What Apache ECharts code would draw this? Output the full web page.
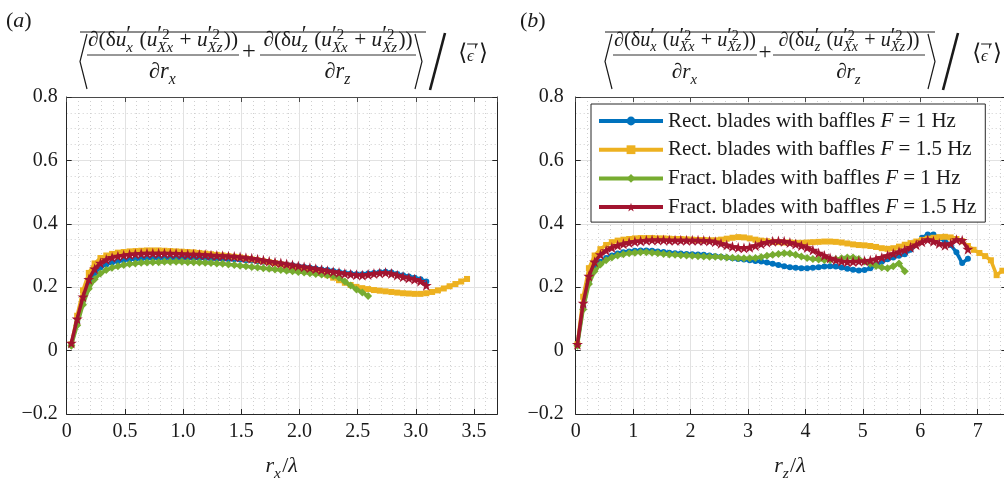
<!DOCTYPE html>
<html><head><meta charset="utf-8">
<script src="https://cdn.jsdelivr.net/npm/echarts@6/dist/echarts.min.js"></script>
<style>html,body{margin:0;padding:0;background:#fff}#c{width:1004px;height:483px}</style>
</head><body><div id="c"></div>
<script>
// ---------------- DATA ----------------
const seriesNames = ['Rect. blades with baffles F = 1 Hz','Rect. blades with baffles F = 1.5 Hz','Fract. blades with baffles F = 1 Hz','Fract. blades with baffles F = 1.5 Hz'];

// panel (a): r_x / lambda sample positions
const xA = [0.04,0.09,0.14,0.19,0.24,0.29,0.34,0.39,0.44,0.49,
0.54,0.59,0.64,0.69,0.74,0.79,0.84,0.89,0.94,0.99,
1.04,1.09,1.14,1.19,1.24,1.29,1.34,1.39,1.44,1.49,
1.54,1.59,1.64,1.69,1.74,1.79,1.84,1.89,1.94,1.99,
2.04,2.09,2.14,2.19,2.24,2.29,2.34,2.39,2.44,2.49,
2.54,2.59,2.64,2.69,2.74,2.79,2.84,2.89,2.94,2.99,
3.04,3.09,3.14,3.19,3.24,3.29,3.34,3.39,3.44];

const blueA = [0.02,0.09,0.16,0.212,0.245,0.262,0.272,0.278,0.282,0.285,
0.287,0.289,0.290,0.291,0.292,0.292,0.292,0.292,0.292,0.292,
0.292,0.292,0.291,0.291,0.290,0.290,0.289,0.288,0.288,0.287,
0.285,0.284,0.282,0.280,0.278,0.276,0.274,0.271,0.269,0.266,
0.264,0.261,0.259,0.256,0.254,0.251,0.248,0.245,0.243,0.241,
0.241,0.243,0.245,0.247,0.249,0.246,0.242,0.238,0.234,0.230,
0.225,0.218];

const yellowA = [0.02,0.11,0.19,0.245,0.275,0.292,0.300,0.305,0.309,0.311,
0.313,0.314,0.315,0.316,0.316,0.316,0.315,0.314,0.313,0.312,
0.311,0.310,0.308,0.306,0.304,0.302,0.300,0.298,0.296,0.294,
0.291,0.288,0.285,0.282,0.279,0.276,0.272,0.268,0.264,0.260,
0.256,0.252,0.248,0.244,0.238,0.230,0.222,0.214,0.207,0.201,
0.197,0.194,0.191,0.189,0.187,0.185,0.183,0.181,0.180,0.179,
0.179,0.181,0.185,0.190,0.196,0.203,0.210,0.218,0.226];

const greenA = [0.015,0.08,0.145,0.195,0.225,0.243,0.254,0.261,0.266,0.270,
0.273,0.275,0.277,0.278,0.279,0.279,0.280,0.280,0.280,0.280,
0.279,0.279,0.278,0.277,0.276,0.275,0.274,0.272,0.270,0.268,
0.266,0.264,0.262,0.260,0.258,0.256,0.254,0.252,0.250,0.248,
0.246,0.244,0.242,0.240,0.238,0.235,0.230,0.218,0.205,0.193,
0.183,0.172];

const redA = [0.024,0.10,0.17,0.225,0.258,0.276,0.287,0.294,0.298,0.301,
0.303,0.305,0.306,0.307,0.307,0.307,0.307,0.306,0.306,0.305,
0.304,0.304,0.303,0.302,0.301,0.300,0.299,0.298,0.297,0.295,
0.293,0.291,0.288,0.285,0.282,0.279,0.276,0.273,0.270,0.267,
0.264,0.261,0.258,0.255,0.252,0.249,0.246,0.243,0.241,0.239,
0.238,0.240,0.243,0.245,0.246,0.243,0.238,0.233,0.229,0.225,
0.219,0.206];

// panel (b): r_z / lambda sample positions
const xB = [0.03,0.13,0.23,0.33,0.43,0.53,0.63,0.73,0.83,0.93,
1.03,1.13,1.23,1.33,1.43,1.53,1.63,1.73,1.83,1.93,
2.03,2.13,2.23,2.33,2.43,2.53,2.63,2.73,2.83,2.93,
3.03,3.13,3.23,3.33,3.43,3.53,3.63,3.73,3.83,3.93,
4.03,4.13,4.23,4.33,4.43,4.53,4.63,4.73,4.83,4.93,
5.03,5.13,5.23,5.33,5.43,5.53,5.63,5.73,5.83,5.93,
6.03,6.13,6.23,6.33,6.43,6.53,6.63,6.73,6.83,6.93,
7.03,7.13,7.23,7.33,7.43];

const blueB = [0.02,0.14,0.22,0.26,0.28,0.292,0.300,0.306,0.310,0.313,
0.315,0.316,0.316,0.315,0.313,0.311,0.309,0.307,0.306,0.305,
0.304,0.303,0.302,0.300,0.298,0.296,0.294,0.291,0.289,0.287,
0.285,0.283,0.281,0.278,0.274,0.270,0.266,0.263,0.261,0.260,
0.260,0.261,0.263,0.265,0.266,0.265,0.262,0.258,0.255,0.253,
0.254,0.260,0.270,0.280,0.288,0.294,0.299,0.304,0.318,0.338,
0.356,0.366,0.366,0.356,0.345,0.333,0.310,0.276,0.290];

const yellowB = [0.02,0.17,0.26,0.30,0.32,0.333,0.342,0.347,0.350,0.352,
0.354,0.355,0.355,0.355,0.354,0.354,0.353,0.352,0.352,0.351,
0.350,0.349,0.349,0.348,0.348,0.350,0.353,0.356,0.358,0.357,
0.354,0.350,0.347,0.345,0.343,0.342,0.341,0.341,0.340,0.340,
0.341,0.342,0.343,0.344,0.344,0.343,0.341,0.338,0.335,0.333,
0.332,0.330,0.327,0.323,0.321,0.323,0.328,0.334,0.339,0.344,
0.349,0.353,0.356,0.358,0.359,0.357,0.352,0.345,0.330,0.318,
0.308,0.298,0.285,0.238,0.252];

const greenB = [0.015,0.13,0.21,0.25,0.272,0.285,0.294,0.300,0.304,0.307,
0.309,0.310,0.310,0.309,0.307,0.305,0.303,0.302,0.301,0.300,
0.299,0.298,0.297,0.296,0.296,0.295,0.294,0.293,0.292,0.291,
0.291,0.292,0.295,0.299,0.302,0.305,0.307,0.306,0.302,0.297,
0.292,0.289,0.287,0.286,0.286,0.288,0.291,0.294,0.294,0.289,
0.281,0.274,0.267,0.262,0.260,0.266,0.275,0.250];

const redB = [0.02,0.15,0.235,0.28,0.303,0.316,0.325,0.332,0.337,0.341,
0.344,0.346,0.348,0.349,0.349,0.349,0.348,0.348,0.348,0.348,
0.348,0.348,0.347,0.346,0.343,0.338,0.333,0.328,0.325,0.324,
0.326,0.331,0.337,0.342,0.345,0.346,0.345,0.341,0.336,0.331,
0.325,0.317,0.308,0.300,0.292,0.286,0.282,0.280,0.281,0.282,
0.283,0.285,0.289,0.294,0.300,0.306,0.312,0.318,0.326,0.334,
0.343,0.350,0.345,0.338,0.332,0.338,0.350,0.348,0.320];

// ---------------- STYLE / LAYOUT ----------------
const SERIF = '"Liberation Serif","Times New Roman","DejaVu Serif",serif';
const LAB_FONT = 'Liberation Serif';
const AX = '#262626';
const TXT = '#1a1a1a';
const STAR = 'path://M100,0L122.45,69.1L195.1,69.1L136.3,111.8L158.8,180.9L100,138.2L41.2,180.9L63.7,111.8L4.9,69.1L77.55,69.1Z';
const looks = [
  {color:'#0072BD', symbol:'circle', size:6},
  {color:'#EDB120', symbol:'rect', size:6},
  {color:'#77AC30', symbol:'diamond', size:8},
  {color:'#A2142F', symbol:STAR, size:11}
];

function zip(xs, ys){ return ys.map((y,i)=>[xs[i], y]); }
function mk(k, data, xi, yi){
  const st = looks[k];
  return {name:seriesNames[k], type:'line', xAxisIndex:xi, yAxisIndex:yi, data,
    symbol:st.symbol, symbolSize:st.size, showSymbol:true, showAllSymbol:true,
    lineStyle:{color:st.color, width:3.5}, itemStyle:{color:st.color, borderWidth:0},
    emphasis:{disabled:true}, animation:false, z:2+k*0.1};
}

function rt(s){ return s==='' ? '' : '{t|'+s+'}'; }
function fmtY(v){ if (Math.abs(v)<1e-9) return rt('0'); const s=Math.abs(v).toFixed(1); return rt(v<0 ? '\u2212'+s : s); }
function fmtXa(v){ if (Math.abs(v/0.5-Math.round(v/0.5))>1e-6) return ''; return rt(Math.abs(v)<1e-9 ? '0' : v.toFixed(1)); }
function fmtXb(v){ if (Math.abs(v-Math.round(v))>1e-6) return ''; return rt(String(Math.round(v))); }

const labStyle = {fontFamily:LAB_FONT, fontSize:20, color:TXT, fontWeight:'normal', fontStyle:'normal',
  rich:{t:{fontFamily:LAB_FONT, fontSize:20, color:TXT, fontWeight:'normal', fontStyle:'normal'}}};

function xMain(gi,max,interval,fmt){
  return {type:'value', gridIndex:gi, position:'bottom', min:0, max, interval,
    axisLine:{onZero:false, lineStyle:{color:AX, width:1}},
    axisTick:{inside:true, length:5, lineStyle:{color:AX}},
    axisLabel:Object.assign({formatter:fmt, margin:8}, labStyle),
    splitLine:{show:true, lineStyle:{color:'#e2e2e2', width:1}}};
}
function xMinor(gi,max,interval){
  return {type:'value', gridIndex:gi, position:'bottom', min:0, max, interval,
    axisLine:{show:false, onZero:false}, axisTick:{show:false}, axisLabel:{show:false},
    splitLine:{show:true, lineStyle:{color:'#cfcfcf', width:1, type:[1,3]}}, z:-1};
}
function xTop(gi,max,interval){
  return {type:'value', gridIndex:gi, position:'top', min:0, max, interval,
    axisLine:{show:true, onZero:false, lineStyle:{color:'#4a4a4a'}},
    axisTick:{inside:true, length:5, lineStyle:{color:'#4a4a4a'}},
    axisLabel:{show:false}, splitLine:{show:false}};
}
function yMain(gi, margin){
  return {type:'value', gridIndex:gi, position:'left', min:-0.2, max:0.8, interval:0.2,
    axisLine:{show:true, onZero:false, lineStyle:{color:AX}},
    axisTick:{inside:true, length:5, lineStyle:{color:AX}},
    axisLabel:Object.assign({formatter:fmtY, margin}, labStyle),
    splitLine:{show:true, lineStyle:{color:'#e2e2e2'}},
    minorTick:{show:false, splitNumber:4},
    minorSplitLine:{show:true, lineStyle:{color:'#cfcfcf', type:[1,3]}}};
}
function yRight(gi){
  return {type:'value', gridIndex:gi, position:'right', min:-0.2, max:0.8, interval:0.2,
    axisLine:{show:true, onZero:false, lineStyle:{color:AX}},
    axisTick:{inside:true, length:5, lineStyle:{color:AX}},
    axisLabel:{show:false}, splitLine:{show:false}};
}

// ---------- math-like text layout helpers ----------
const mctx = document.createElement('canvas').getContext('2d');
function fstr(size,it){ return (it?'italic ':'') + size.toFixed(2) + 'px ' + SERIF; }
function mw(t,size,it){ mctx.font = fstr(size,it); return mctx.measureText(t).width; }
function lay(tokens,size){
  const items=[]; let x=0;
  for (const tk of tokens){
    if (Array.isArray(tk)){
      const it = tk[1]==='i'; const s = size*(tk[2]||1);
      items.push({t:tk[0], x, dy:0, size:s, it}); x += mw(tk[0], s, it);
    } else {
      let w=0;
      [['sup',-0.36],['sub',0.22]].forEach(([k,d])=>{
        if (!tk[k]) return; let xx=x;
        for (const t of tk[k]){ const it=t[1]==='i'; const s2=size*0.7*(t[2]||1);
          items.push({t:t[0], x:xx, dy:d*size + (t[2]?0.12*size:0), size:s2, it}); xx += mw(t[0], s2, it); }
        w = Math.max(w, xx-x);
      });
      x += w + 0.06*size;
    }
  }
  return {items, width:x};
}
function place(els, tokens, size, cx, base, alignLeft){
  const L = lay(tokens,size);
  const x0 = alignLeft ? cx : cx - L.width/2;
  for (const it of L.items){
    els.push({type:'text', x:x0+it.x, y:base+it.dy-0.34*it.size, silent:true, z:100,
      style:{text:it.t, font:fstr(it.size,it.it), fill:TXT, align:'left', verticalAlign:'middle'}});
  }
  return {x0, L};
}
function seg(els,x1,y1,x2,y2,w){ els.push({type:'line', silent:true, z:100, shape:{x1,y1,x2,y2}, style:{stroke:TXT, lineWidth:w}}); }
function poly(els,pts,w){ els.push({type:'polyline', silent:true, z:100, shape:{points:pts}, style:{stroke:TXT, fill:null, lineWidth:w}}); }

const PR = ['\u2032','r',1.5];
function numTokens(first){
  return [['\u2202(\u03B4','r'],['u','i'],{sup:[PR], sub:[[first,'i']]},[' (','r'],['u','i'],
    {sup:[PR,['2','r']], sub:[['Xx','i']]},[' + ','r'],['u','i'],{sup:[PR,['2','r']], sub:[['Xz','i']]},['))','r']];
}
function denTokens(v){ return [['\u2202','r'],['r','i'],{sub:[[v,'i']]}]; }

function formula(els,P){
  seg(els,P.ol[0],32,P.ol[1],32,1);
  poly(els,[[P.lb+7,34],[P.lb,61.5],[P.lb+7,89]],1.2);
  poly(els,[[P.rb,34],[P.rb+7,61.5],[P.rb,89]],1.2);
  const n1 = numTokens('x'), n2 = numTokens('z');
  const s = 10*(P.f1[1]-P.f1[0]-2)/lay(n1,10).width;
  seg(els,P.f1[0],55,P.f1[1],55,0.9);
  seg(els,P.f2[0],55,P.f2[1],55,0.9);
  place(els,n1,s,(P.f1[0]+P.f1[1])/2,48);
  place(els,n2,s,(P.f2[0]+P.f2[1])/2,48);
  place(els,denTokens('x'),s*1.05,(P.f1[0]+P.f1[1])/2,80);
  place(els,denTokens('z'),s*1.05,(P.f2[0]+P.f2[1])/2,80);
  place(els,[['+','r']],s*1.15,P.plus,61);
  seg(els,P.sl[0],33,P.sl[1],90,2.6);
  const E = [['\u27E8','r',1.35],['\u03F5','i'],{sup:[PR]},['\u27E9','r',1.35]];
  const r = place(els,E,17,P.eps,62);
  const a = r.x0 + r.L.items[1].x, b = r.x0 + r.L.items[2].x + mw('\u2032', r.L.items[2].size, false);
  seg(els,a,44,b,44,1);
}

const els = [];
formula(els,{ol:[80,426], lb:80, rb:415, f1:[87,239], f2:[260,416], plus:249, sl:[445,430], eps:473});
formula(els,{ol:[605,935], lb:605, rb:928, f1:[613,757], f2:[773,925], plus:765, sl:[958,943], eps:987});
place(els,[['(','r'],['a','i'],[')','r']],22,6,29,true);
place(els,[['(','r'],['b','i'],[')','r']],22,520,29,true);
place(els,[['r','i'],{sub:[['x','i']]},['/','r'],['\u03BB','i']],22,281.7,474);
place(els,[['r','i'],{sub:[['z','i']]},['/','r'],['\u03BB','i']],22,790,474);

const chart = echarts.init(document.getElementById('c'), null, {renderer:'canvas'});
chart.setOption({
  animation:false,
  backgroundColor:'#ffffff',
  textStyle:{fontFamily:LAB_FONT},
  grid:[
    {left:66.7, top:97, width:430.6, height:317, outerBoundsMode:'none', containLabel:false},
    {left:575.7, top:97, width:430.7, height:317, outerBoundsMode:'none', containLabel:false}
  ],
  xAxis:[xMain(0,3.7,0.5,fmtXa), xMinor(0,3.7,0.1), xTop(0,3.7,0.5),
         xMain(1,7.5,1,fmtXb), xMinor(1,7.5,0.2), xTop(1,7.5,1)],
  yAxis:[yMain(0,9), yRight(0), yMain(1,12), yRight(1)],
  legend:{
    data:seriesNames, orient:'vertical', left:591, top:104,
    itemWidth:64, itemHeight:11, itemGap:7.7, padding:[6.5,9,4.5,6],
    backgroundColor:'#ffffff', borderColor:AX, borderWidth:1, borderRadius:0,
    selectedMode:false, z:50,
    lineStyle:{width:4},
    textStyle:{fontFamily:LAB_FONT, fontSize:21, color:TXT, lineHeight:21,
      rich:{i:{fontStyle:'italic', fontFamily:LAB_FONT, fontSize:21, color:TXT, lineHeight:21}}},
    formatter:n=>n.replace(' F ',' {i|F} ')
  },
  graphic:{elements:els},
  series:[
    mk(0,zip(xA,blueA),0,0), mk(1,zip(xA,yellowA),0,0), mk(2,zip(xA,greenA),0,0), mk(3,zip(xA,redA),0,0),
    mk(0,zip(xB,blueB),3,2), mk(1,zip(xB,yellowB),3,2), mk(2,zip(xB,greenB),3,2), mk(3,zip(xB,redB),3,2)
  ]
});
</script>
</body></html>
